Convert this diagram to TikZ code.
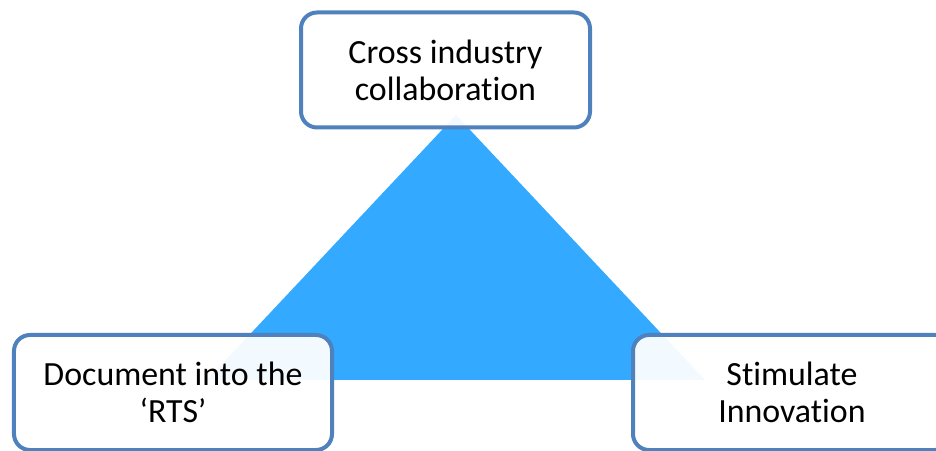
\documentclass[tikz,border=0pt]{standalone}
\usepackage{fontspec}
\setmainfont{Carlito}[Ligatures=NoCommon]
\definecolor{MyBlue}{HTML}{33AAFF}
\definecolor{MyFrame}{HTML}{4F81BD}

\begin{document}
\begin{tikzpicture}[x=1bp, y=-1bp, every node/.style={black, font=\fontsize{34}{37}\selectfont},
	goalbox/.style={draw=MyFrame, line width=4bp, rounded corners=16bp, fill=white, fill opacity=0.94, text opacity=1, align=center, minimum height=115bp, inner sep=0pt}]
			\useasboundingbox (0, 0) rectangle (936, 451);
			\fill[MyBlue] (456, 115) -- (207, 380) -- (705, 380) -- cycle;
			
			\node[goalbox, minimum width=289bp] (collab) at (445.5, 70) {Cross industry\\ collaboration};
			
			\node[goalbox, minimum width=318bp] (rts) at (173, 392.5) {Document into the\\ ‘RTS’};
			
			\node[goalbox, minimum width=318bp] (innov) at (792, 392.5) {Stimulate\\ Innovation};
		\end{tikzpicture}
\end{document}
